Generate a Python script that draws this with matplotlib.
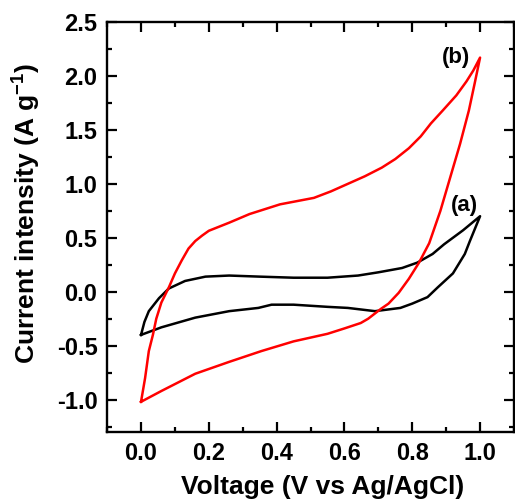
import matplotlib
matplotlib.use('Agg')
import matplotlib.pyplot as plt
from matplotlib.ticker import MultipleLocator

plt.rcParams['font.family'] = ['Liberation Sans', 'DejaVu Sans']
plt.rcParams['font.weight'] = 'bold'
plt.rcParams['mathtext.fontset'] = 'custom'
plt.rcParams['mathtext.rm'] = 'Liberation Sans:bold'
plt.rcParams['mathtext.bf'] = 'Liberation Sans:bold'
plt.rcParams['mathtext.default'] = 'bf'
plt.rcParams['axes.unicode_minus'] = False

# (a) black loop, anodic sweep then cathodic sweep
a_fwd_v = [0.0, 0.01, 0.023, 0.053, 0.082, 0.13, 0.19, 0.26, 0.35, 0.45, 0.55,
           0.64, 0.70, 0.77, 0.815, 0.86, 0.894, 0.95, 1.0]
a_fwd_i = [-0.40, -0.28, -0.18, -0.06, 0.03, 0.10, 0.14, 0.15, 0.14, 0.13, 0.13,
           0.15, 0.18, 0.22, 0.27, 0.35, 0.44, 0.57, 0.70]
a_rev_v = [1.0, 0.97, 0.955, 0.92, 0.875, 0.845, 0.80, 0.765, 0.69, 0.61, 0.55,
           0.45, 0.385, 0.346, 0.26, 0.16, 0.06, 0.0]
a_rev_i = [0.70, 0.47, 0.35, 0.17, 0.04, -0.05, -0.11, -0.15, -0.18, -0.15, -0.14,
           -0.12, -0.12, -0.15, -0.18, -0.24, -0.33, -0.40]

# (b) red loop
b_fwd_v = [0.0, 0.012, 0.023, 0.035, 0.045, 0.06, 0.082, 0.10, 0.12, 0.14, 0.16,
           0.18, 0.20, 0.26, 0.32, 0.41, 0.46, 0.51, 0.56, 0.61, 0.66, 0.71, 0.75,
           0.79, 0.825, 0.855, 0.89, 0.93, 0.96, 0.98, 1.0]
b_fwd_i = [-1.02, -0.80, -0.55, -0.40, -0.25, -0.10, 0.04, 0.17, 0.29, 0.40, 0.47,
           0.52, 0.565, 0.64, 0.72, 0.81, 0.84, 0.87, 0.93, 1.00, 1.07, 1.15, 1.23,
           1.33, 1.44, 1.56, 1.68, 1.82, 1.95, 2.05, 2.17]
b_rev_v = [1.0, 0.984, 0.967, 0.941, 0.912, 0.883, 0.85, 0.82, 0.79, 0.76, 0.73,
           0.707, 0.67, 0.648, 0.60, 0.55, 0.45, 0.355, 0.26, 0.16, 0.06, 0.0]
b_rev_i = [2.17, 1.93, 1.68, 1.37, 1.06, 0.75, 0.45, 0.27, 0.12, -0.01, -0.11,
           -0.16, -0.25, -0.29, -0.34, -0.39, -0.46, -0.55, -0.65, -0.76, -0.92, -1.02]

fig = plt.figure(figsize=(5.15, 5.0), dpi=100)
ax = fig.add_axes([0.208, 0.136, 0.790, 0.820])

ax.plot(a_fwd_v + a_rev_v, a_fwd_i + a_rev_i, color='black', lw=1.8)
ax.plot(b_fwd_v + b_rev_v, b_fwd_i + b_rev_i, color='#ff0000', lw=1.8)

ax.text(0.93, 2.17, '(b)', fontsize=16, fontweight='bold', ha='center', va='center')
ax.text(0.955, 0.80, '(a)', fontsize=16, fontweight='bold', ha='center', va='center')

ax.set_xlim(-0.1, 1.1)
ax.set_ylim(-1.3, 2.5)
ax.xaxis.set_minor_locator(MultipleLocator(0.1))
ax.yaxis.set_major_locator(MultipleLocator(0.5))
ax.yaxis.set_minor_locator(MultipleLocator(0.25))
ax.set_xticks([0.0, 0.2, 0.4, 0.6, 0.8, 1.0])
ax.set_xticklabels(['0.0', '0.2', '0.4', '0.6', '0.8', '1.0'])

ax.tick_params(which='both', direction='in', top=True, right=True, width=1.6)
ax.tick_params(which='major', length=7, labelsize=17, pad=7)
ax.tick_params(which='minor', length=3.5)
for lab in ax.get_xticklabels() + ax.get_yticklabels():
    lab.set_fontweight('bold')
for sp in ax.spines.values():
    sp.set_linewidth(1.7)

ax.set_xlabel('Voltage (V vs Ag/AgCl)', fontsize=19, fontweight='bold')
ax.xaxis.set_label_coords(0.53, -0.105)
ax.set_ylabel(r'Current intensity (A g$^{-1}$)', fontsize=19, fontweight='bold')
ax.yaxis.set_label_coords(-0.157, 0.534)

fig.savefig('out.png', dpi=100)
